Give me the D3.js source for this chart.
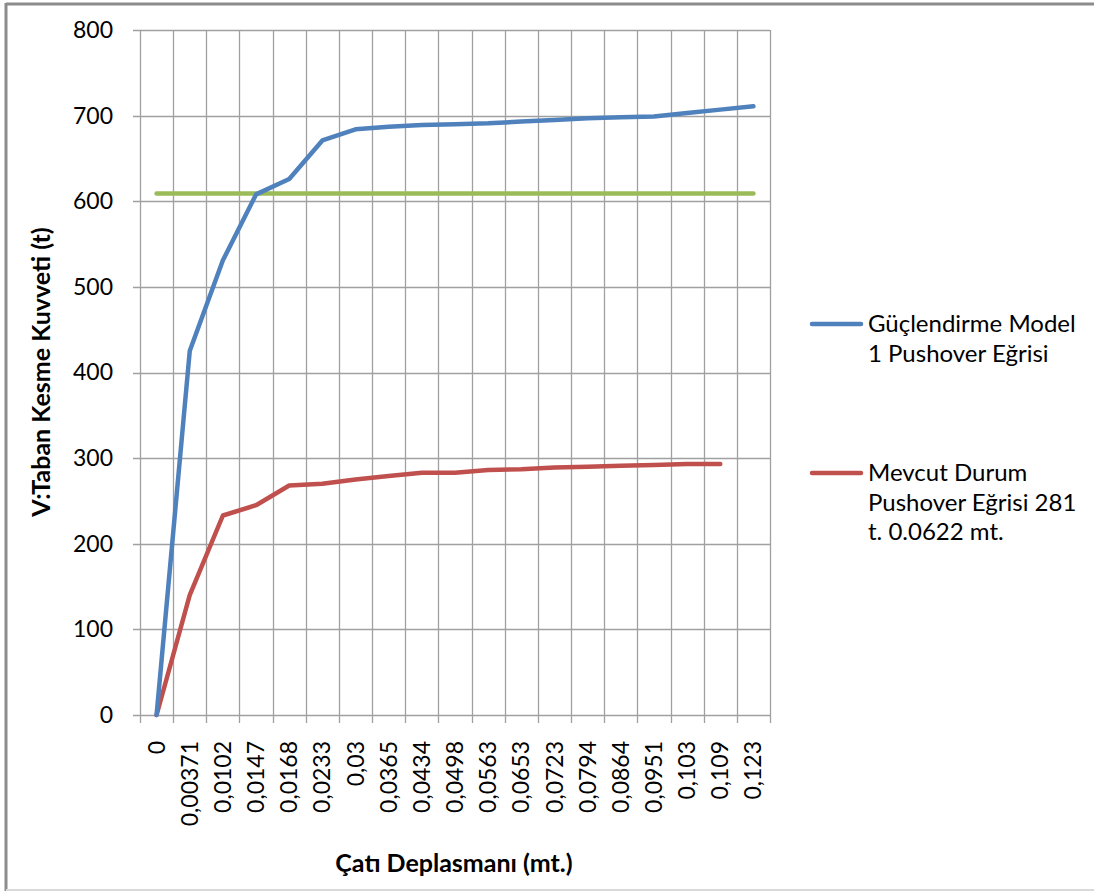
<!DOCTYPE html>
<html>
<head>
<meta charset="utf-8">
<script src="https://cdn.jsdelivr.net/npm/d3@7"></script>
<style>
  html, body { margin: 0; padding: 0; background: #fff; }
  svg { display: block; }
  text { font-family: Lato, "Open Sans", sans-serif; fill: #000; }
</style>
</head>
<body>
<svg id="chart" width="1094" height="891"></svg>
<script>
// ---- data ----
const categories = ["0","0,00371","0,0102","0,0147","0,0168","0,0233","0,03","0,0365","0,0434","0,0498","0,0563","0,0653","0,0723","0,0794","0,0864","0,0951","0,103","0,109","0,123"];
const strengthenedValues = [0,425,531,608,626,671,684,687,689,690,691,693,695,697,698,699,703,707,711];
const existingValues = [0,140,233,245,268,270,275,279,283,283,286,287,289,290,291,292,293,293];
const thresholdValues = [609,609,609,609,609,609,609,609,609,609,609,609,609,609,609,609,609,609,609];
const yTicks = [0,100,200,300,400,500,600,700,800];
const seriesNames = ["Güçlendirme Model 1 Pushover Eğrisi", "Mevcut Durum Pushover Eğrisi 281 t. 0.0622 mt."];
const legendLines = [["Güçlendirme Model", "1 Pushover Eğrisi"], ["Mevcut Durum", "Pushover Eğrisi 281", "t. 0.0622 mt."]];
const xTitle = "Çatı Deplasmanı (mt.)";
const yTitle = "V:Taban Kesme Kuvveti (t)";

// ---- layout ----
const svg = d3.select("#chart");
const plot = {left: 140, right: 770, top: 30, bottom: 715};
const gridColor = "#a0a0a0";

// frame
svg.append("line").attr("x1", 6).attr("x2", 6).attr("y1", 3).attr("y2", 891).attr("stroke", "#8c8c8c").attr("stroke-width", 3);
svg.append("line").attr("x1", 6).attr("x2", 1094).attr("y1", 4).attr("y2", 4).attr("stroke", "#8c8c8c").attr("stroke-width", 3);
svg.append("line").attr("x1", 6).attr("x2", 1094).attr("y1", 890).attr("y2", 890).attr("stroke", "#d9d9d9").attr("stroke-width", 2);

const x = d3.scaleBand().domain(categories).range([plot.left, plot.right]).paddingInner(0).paddingOuter(0);
const y = d3.scaleLinear().domain([0, 800]).range([plot.bottom, plot.top]);
const cx = c => x(c) + x.bandwidth() / 2;

const g = svg.append("g");

// horizontal gridlines
g.selectAll("line.hg").data(yTicks).join("line")
  .attr("x1", plot.left - 7).attr("x2", plot.right)
  .attr("y1", d => Math.round(y(d)) + 0.5).attr("y2", d => Math.round(y(d)) + 0.5)
  .attr("stroke", gridColor).attr("stroke-width", 1.3);

// vertical gridlines at band boundaries
const bounds = categories.map(c => x(c)).concat([plot.right]);
g.selectAll("line.vg").data(bounds).join("line")
  .attr("x1", d => Math.round(d) + 0.5).attr("x2", d => Math.round(d) + 0.5)
  .attr("y1", plot.top).attr("y2", plot.bottom + 8)
  .attr("stroke", gridColor).attr("stroke-width", 1.3);

// y axis labels
const yAxis = d3.axisLeft(y).tickValues(yTicks).tickSize(0).tickPadding(27);
const ya = svg.append("g").attr("transform", `translate(${plot.left},0)`).call(yAxis);
ya.select(".domain").remove();
ya.selectAll("text").style("font-family", "Lato, sans-serif").style("font-size", "23px").attr("fill", "#000");

// x axis labels
const xAxis = d3.axisBottom(x).tickSize(0).tickPadding(0);
const xa = svg.append("g").attr("transform", `translate(0,${plot.bottom})`).call(xAxis);
xa.select(".domain").remove();
xa.selectAll("text")
  .style("font-family", "Lato, sans-serif").style("font-size", "23px").attr("fill", "#000")
  .attr("transform", "rotate(-90)")
  .attr("text-anchor", "end")
  .attr("x", -26).attr("y", 0).attr("dy", "0.35em");

// lines
const line = d3.line().x((d, i) => cx(categories[i])).y(d => y(d));
svg.append("path").datum(thresholdValues).attr("d", line).attr("fill", "none")
  .attr("stroke", "#9bbb59").attr("stroke-width", 4.5).attr("stroke-linecap", "round");
svg.append("path").datum(existingValues).attr("d", line).attr("fill", "none")
  .attr("stroke", "#c0504d").attr("stroke-width", 4.5).attr("stroke-linecap", "round").attr("stroke-linejoin", "round");
svg.append("path").datum(strengthenedValues).attr("d", line).attr("fill", "none")
  .attr("stroke", "#4f81bd").attr("stroke-width", 4.5).attr("stroke-linecap", "round").attr("stroke-linejoin", "round");

// axis titles
svg.append("text").attr("x", 454).attr("y", 872).attr("text-anchor", "middle")
  .style("font-size", "25px").style("font-weight", "bold").text(xTitle);
svg.append("text").attr("transform", "translate(50,372) rotate(-90)").attr("text-anchor", "middle")
  .style("font-size", "25px").style("font-weight", "bold").text(yTitle);

// legend
const legendColors = ["#4f81bd", "#c0504d"];
const legendY = [324, 473];
const lg = svg.append("g");
legendLines.forEach((lines, i) => {
  lg.append("line").attr("x1", 812).attr("x2", 861).attr("y1", legendY[i]).attr("y2", legendY[i])
    .attr("stroke", legendColors[i]).attr("stroke-width", 4.5).attr("stroke-linecap", "round");
  const t = lg.append("text").attr("x", 868).attr("y", legendY[i]).attr("dy", "0.35em").style("font-size", "24px");
  t.append("title").text(seriesNames[i]);
  lines.forEach((l, j) => {
    t.append("tspan").attr("x", 868).attr("y", legendY[i] + j * 29.5).attr("dy", "0.35em").text(l);
  });
});
</script>
</body>
</html>
